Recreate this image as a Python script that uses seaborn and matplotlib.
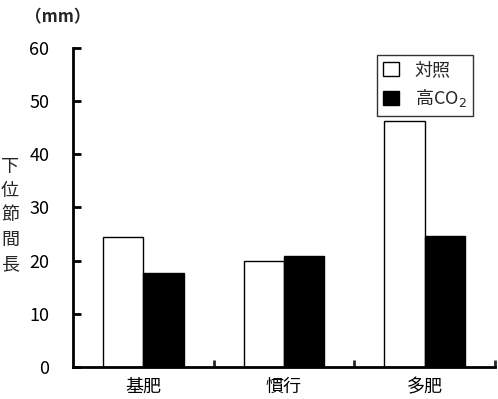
import matplotlib
matplotlib.use("Agg")
import matplotlib.pyplot as plt
import pandas as pd
import seaborn as sns
from matplotlib.ticker import FixedLocator

categories = ["基肥", "慣行", "多肥"]
series = ["対照", "高CO$_2$"]
control_vals = [24.4, 19.9, 46.2]
high_co2_vals = [17.7, 20.9, 24.6]
y_ticks = [0, 10, 20, 30, 40, 50, 60]

df = pd.DataFrame({
    "区": categories * 2,
    "処理": [series[0]] * 3 + [series[1]] * 3,
    "長さ": control_vals + high_co2_vals,
})

sns.set_theme(style="white")
plt.rcParams["font.family"] = ["Noto Sans CJK JP", "DejaVu Sans"]
plt.rcParams["mathtext.fontset"] = "dejavusans"

fig = plt.figure(figsize=(4.98, 3.99), dpi=100)
ax = fig.add_axes([0.1466, 0.0802, 0.8474, 0.7995])

sns.barplot(
    data=df, x="区", y="長さ", hue="処理",
    palette=["white", "black"], edgecolor="black", linewidth=1,
    width=0.575, ax=ax,
)

ax.set_xlim(-0.5, 2.5)
ax.set_ylim(0, 60)
ax.set_yticks(y_ticks)
ax.set_xlabel("")
ax.set_ylabel("")

for side in ["top", "right"]:
    ax.spines[side].set_visible(False)
for side in ["left", "bottom"]:
    ax.spines[side].set_linewidth(2)
    ax.spines[side].set_color("black")

ax.tick_params(axis="y", direction="in", length=6, width=2, labelsize=13,
               pad=17, colors="black", left=True)
ax.tick_params(axis="x", which="major", length=0, labelsize=13, pad=8,
               colors="black")
ax.xaxis.set_minor_locator(FixedLocator([0.5, 1.5, 2.5]))
ax.tick_params(axis="x", which="minor", direction="in", length=5, width=2,
               bottom=True)

fig.text(0.02, 0.46, "\n".join("下位節間長"), ha="center", va="center",
         fontsize=13, linespacing=1.45)
fig.text(0.116, 0.957, "（mm）", ha="center", va="center",
         fontsize=12, fontweight="bold")

handles, labels = ax.get_legend_handles_labels()
leg = ax.legend(
    handles, labels, loc="upper left", bbox_to_anchor=(0.72, 0.978),
    frameon=True, fancybox=False, handlelength=0.85, handleheight=0.85,
    fontsize=13, borderpad=0.35, labelspacing=0.45, handletextpad=0.9,
    borderaxespad=0,
)
leg.get_frame().set_edgecolor("black")
leg.get_frame().set_linewidth(1)

fig.savefig("out.png", dpi=100)
